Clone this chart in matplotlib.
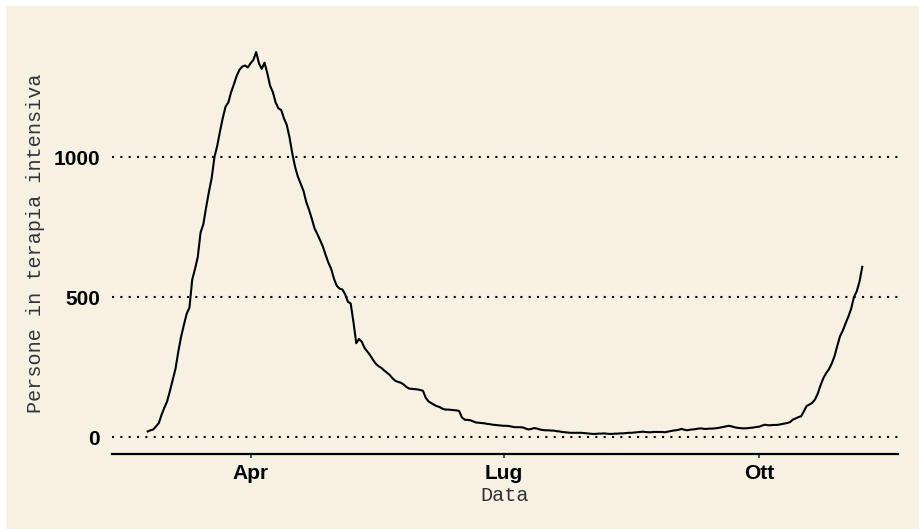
import matplotlib

matplotlib.use("Agg")

import matplotlib.pyplot as plt
import pandas as pd
from matplotlib.patches import Rectangle


START_DATE = "2020-02-24"

# Persone in terapia intensiva, one value per day from START_DATE
icu_values = [
    20, 24, 27, 38, 50, 80, 105, 128, 165, 205,
    244, 305, 358, 400, 440, 462, 562, 600, 643, 730,
    760, 820, 875, 925, 1000, 1040, 1092, 1140, 1180, 1195,
    1232, 1260, 1290, 1312, 1323, 1327, 1320, 1335, 1347, 1375,
    1335, 1315, 1337, 1300, 1255, 1232, 1195, 1174, 1168, 1138,
    1115, 1070, 1013, 965, 930, 905, 880, 840, 812, 780,
    745, 725, 703, 680, 650, 622, 600, 565, 540, 530,
    527, 510, 483, 477, 410, 335, 350, 340, 318, 305,
    292, 276, 262, 253, 247, 238, 230, 222, 210, 201,
    197, 194, 188, 179, 173, 172, 171, 170, 168, 165,
    140, 127, 121, 115, 110, 107, 101, 98, 98, 97,
    96, 95, 93, 70, 62, 61, 60, 56, 52, 51,
    50, 49, 47, 46, 44, 43, 42, 41, 40, 40,
    39, 37, 35, 35, 35, 34, 30, 27, 29, 32,
    30, 27, 25, 24, 24, 23, 23, 21, 20, 18,
    17, 16, 15, 15, 15, 15, 15, 14, 13, 12,
    11, 11, 12, 12, 13, 12, 11, 11, 12, 12,
    13, 13, 14, 15, 15, 16, 17, 18, 19, 18,
    17, 17, 18, 18, 18, 18, 17, 19, 21, 23,
    24, 26, 29, 26, 24, 26, 27, 28, 30, 31,
    29, 29, 30, 30, 31, 32, 34, 36, 38, 40,
    38, 35, 33, 32, 31, 31, 32, 33, 34, 36,
    37, 41, 44, 42, 42, 43, 43, 44, 46, 48,
    50, 53, 62, 66, 71, 74, 92, 111, 116, 122,
    134, 155, 185, 210, 228, 242, 262, 288, 325, 360,
    380, 406, 430, 458, 500, 520, 555, 608,
]

y_ticks = [0, 500, 1000]
x_tick_dates = ["2020-04-01", "2020-07-01", "2020-10-01"]
x_tick_labels = ["Apr", "Lug", "Ott"]

BG = "#F7F1E4"


def main() -> None:
    dates = pd.date_range(START_DATE, periods=len(icu_values), freq="D")

    fig = plt.figure(figsize=(9.2, 5.29), dpi=100, facecolor="white")
    fig.patches.append(
        Rectangle((6 / 920, 0), 1 - 6 / 920, 1 - 6 / 529, transform=fig.transFigure,
                  facecolor=BG, edgecolor="none", zorder=-10)
    )
    ax = fig.add_axes([112 / 920, 1 - 454 / 529, (898 - 112) / 920, (454 - 33) / 529])
    ax.set_facecolor(BG)

    ax.plot(dates, icu_values, color="black", linewidth=1.5, zorder=3)

    span = dates[-1] - dates[0]
    ax.set_xlim(dates[0] - span * 0.05, dates[-1] + span * 0.05)
    ax.set_ylim(-60.7, 1443)

    ax.set_yticks(y_ticks)
    ax.set_yticklabels([str(v) for v in y_ticks])
    ax.set_xticks(pd.to_datetime(x_tick_dates))
    ax.set_xticklabels(x_tick_labels)
    ax.xaxis.set_minor_locator(plt.NullLocator())

    for side in ["top", "right", "left"]:
        ax.spines[side].set_visible(False)
    ax.spines["bottom"].set_linewidth(1.6)
    ax.spines["bottom"].set_color("black")

    ax.yaxis.grid(True, color="black", linestyle=(0, (1, 3)), linewidth=1.5)
    ax.xaxis.grid(False)
    ax.set_axisbelow(True)

    ax.tick_params(axis="y", length=0, pad=8.6)
    ax.tick_params(axis="x", length=3, width=1.2, color="#333333", pad=4.5)
    for label in ax.get_xticklabels() + ax.get_yticklabels():
        label.set_fontfamily("Liberation Sans")
        label.set_fontweight("bold")
        label.set_fontsize(15)
        label.set_color("black")

    ax.set_xlabel("Data", fontfamily="Liberation Mono", fontsize=14.5, color="#333333", labelpad=2)
    ax.set_ylabel("Persone in terapia intensiva", fontfamily="Liberation Mono", fontsize=14.5,
                  color="#333333", labelpad=6)

    fig.savefig("out.png", dpi=100, facecolor="white")
    plt.close(fig)


if __name__ == "__main__":
    main()
